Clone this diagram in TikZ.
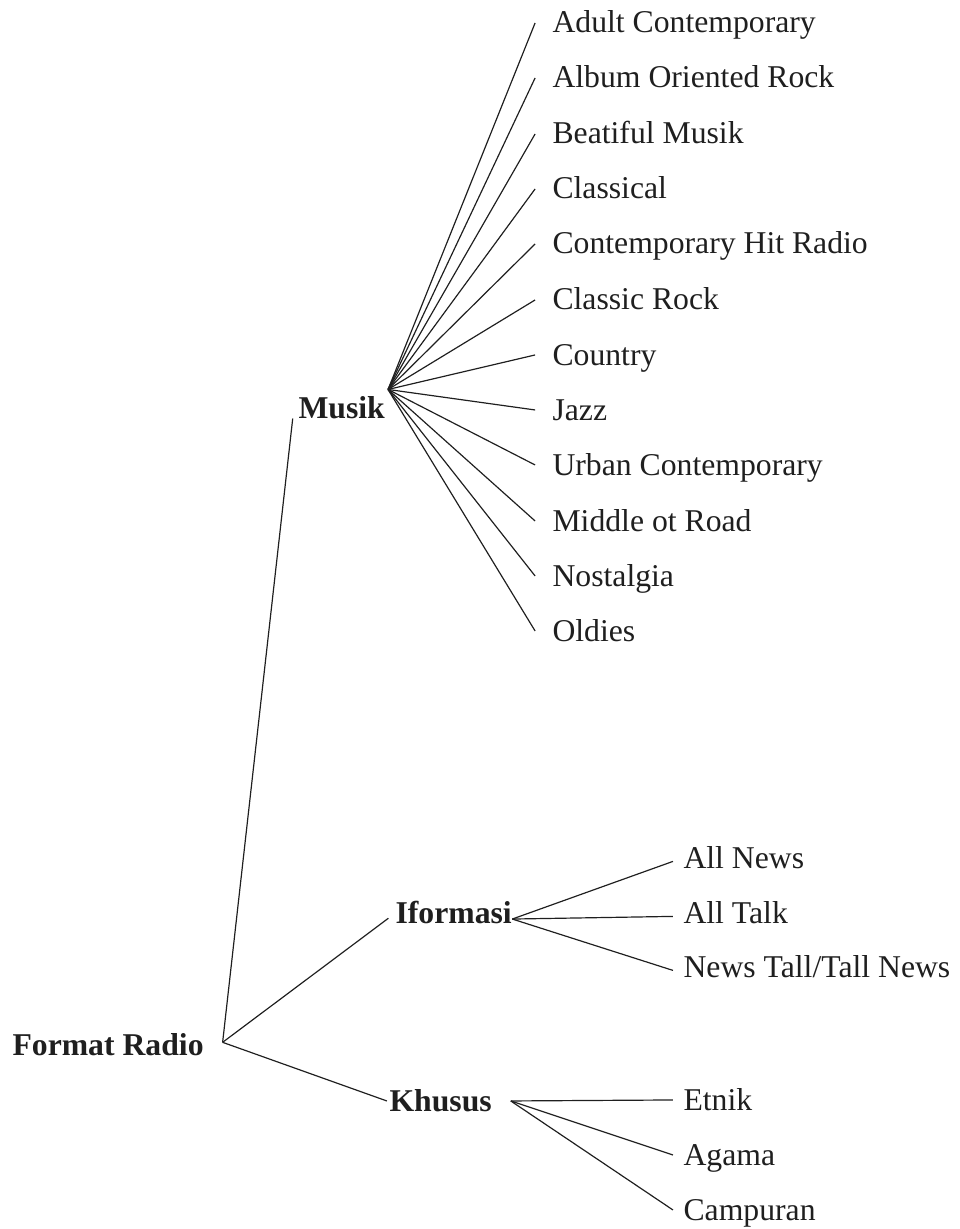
\documentclass[tikz,border=0pt]{standalone}
\usepackage{fontspec}
\setmainfont{Liberation Serif}

\begin{document}
\begin{tikzpicture}[x=0.3785pt, y=-0.3785pt,
    every node/.style={inner sep=0pt, anchor=base west, text height=7.6pt, text depth=0pt,
        font=\fontsize{12}{14}\selectfont, text=black!88},
    kategori/.style={font=\fontsize{12}{14}\selectfont\bfseries},
    cabang/.style={line width=0.45pt, draw=black!88}]
    \useasboundingbox (0,0) rectangle (959,1229);
    % Akar dan kategori
    \node[kategori] (format) at (12,1055) {Format Radio};
    \node[kategori] (musik) at (298,418) {Musik};
    \node[kategori] (ifo) at (395,923) {Iformasi};
    \node[kategori] (khu) at (389,1111) {Khusus};
    \coordinate (fhub) at ([shift={(7pt,1pt)}]format.east);
    \coordinate (mhub) at ([shift={(1pt,3pt)}]musik.north east);
    \coordinate (ihub) at ([yshift=1.5pt]ifo.base east);
    \coordinate (khub) at ([xshift=7pt]khu.east);
    \draw[cabang] (fhub) -- ([xshift=-2pt]musik.south west);
    \draw[cabang] (fhub) -- ([shift={(-2.5pt,-2pt)}]ifo.west);
    \draw[cabang] (fhub) -- ([xshift=-0.8pt]khu.west);
    % Format musik
    \node (adult) at (552,33) {Adult Contemporary};
    \node (album) at (552,88) {Album Oriented Rock};
    \node (beatiful) at (552,144) {Beatiful Musik};
    \node (classical) at (552,199) {Classical};
    \node (chr) at (552,254) {Contemporary Hit Radio};
    \node (crock) at (552,310) {Classic Rock};
    \node (country) at (552,365) {Country};
    \node (jazz) at (552,420) {Jazz};
    \node (urban) at (552,475) {Urban Contemporary};
    \node (middle) at (552,531) {Middle ot Road};
    \node (nostalgia) at (552,586) {Nostalgia};
    \node (oldies) at (552,641) {Oldies};
    \draw[cabang] (mhub) -- ([xshift=-6.4pt]adult.west);
    \draw[cabang] (mhub) -- ([xshift=-6.4pt]album.west);
    \draw[cabang] (mhub) -- ([xshift=-6.4pt]beatiful.west);
    \draw[cabang] (mhub) -- ([xshift=-6.4pt]classical.west);
    \draw[cabang] (mhub) -- ([xshift=-6.4pt]chr.west);
    \draw[cabang] (mhub) -- ([xshift=-6.4pt]crock.west);
    \draw[cabang] (mhub) -- ([xshift=-6.4pt]country.west);
    \draw[cabang] (mhub) -- ([xshift=-6.4pt]jazz.west);
    \draw[cabang] (mhub) -- ([xshift=-6.4pt]urban.west);
    \draw[cabang] (mhub) -- ([xshift=-6.4pt]middle.west);
    \draw[cabang] (mhub) -- ([xshift=-6.4pt]nostalgia.west);
    \draw[cabang] (mhub) -- ([xshift=-6.4pt]oldies.west);
    % Format informasi
    \node (news) at (683,868) {All News};
    \node (talk) at (683,923) {All Talk};
    \node (newstalk) at (683,977) {News Tall/Tall News};
    \draw[cabang] (ihub) -- ([shift={(-3.8pt,-1.3pt)}]news.west);
    \draw[cabang] (ihub) -- ([shift={(-3.8pt,-1.3pt)}]talk.west);
    \draw[cabang] (ihub) -- ([shift={(-3.8pt,-1.3pt)}]newstalk.west);
    % Format khusus
    \node (etnik) at (683,1110) {Etnik};
    \node (agama) at (683,1165) {Agama};
    \node (campuran) at (683,1220) {Campuran};
    \draw[cabang] (khub) -- ([xshift=-3.8pt]etnik.west);
    \draw[cabang] (khub) -- ([xshift=-3.8pt]agama.west);
    \draw[cabang] (khub) -- ([xshift=-3.8pt]campuran.west);
\end{tikzpicture}
\end{document}
